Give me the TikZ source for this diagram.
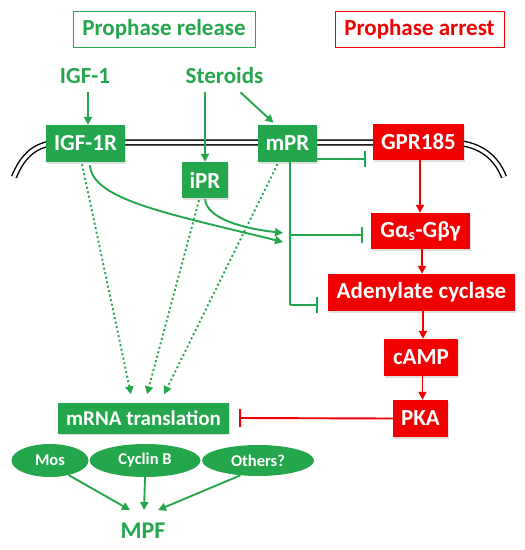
\documentclass[tikz,border=0pt]{standalone}
\usepackage{fontspec}
\setmainfont{Carlito}
\usetikzlibrary{arrows.meta,shapes.geometric,calc,shadows}
\definecolor{gr}{RGB}{36,166,76}
\definecolor{rd}{RGB}{240,0,0}
\begin{document}
\begin{tikzpicture}[x=1pt,y=-1pt,
  bigfont/.style={font=\fontsize{23}{26}\selectfont\bfseries},
  gbox/.style={bigfont,fill=gr,text=white,inner sep=0pt,drop shadow={opacity=0.25,shadow xshift=1pt,shadow yshift=-1.5pt}},
  rbox/.style={bigfont,fill=rd,text=white,inner sep=0pt,drop shadow={opacity=0.25,shadow xshift=1pt,shadow yshift=-1.5pt}},
  gell/.style={ellipse,fill=gr,text=white,inner sep=0pt,font=\fontsize{16.5}{19}\selectfont\bfseries},
  gline/.style={draw=gr,line width=1.9pt},
  garrow/.style={gline,-{Triangle[length=8pt,width=8pt]}},
  gdot/.style={garrow,dash pattern=on 2pt off 2.6pt},
  ginhib/.style={gline,-{Bar[width=16pt,line width=1.9pt]}},
  rarrow/.style={draw=rd,line width=1.9pt,-{Triangle[length=8pt,width=8pt]}},
  rinhib/.style={draw=rd,line width=1.9pt,-{Bar[width=18pt,line width=1.9pt]}},
  gtext/.style={bigfont,text=gr,inner sep=0pt}]
\useasboundingbox (0,0) rectangle (525,550);

% headers
\node[gtext,draw=gr,line width=0.8pt,minimum width=182pt,minimum height=36pt] (rel) at (164,29) {Prophase release};
\node[bigfont,text=rd,draw=rd,line width=0.8pt,inner sep=0pt,minimum width=169pt,minimum height=36pt] (arr) at (419.5,29) {Prophase arrest};

% ligands
\node[gtext] (igf1) at (85,76) {IGF-1};
\node[gtext] (ster) at (224.5,76) {Steroids};

% membrane
\draw[line width=1.4pt,double=white,double distance=3.4pt]
  (14,177) .. controls (23,155) and (36,142.5) .. (62,142.5) -- (450,142.5)
  .. controls (476,142.5) and (495,154) .. (504,177);

% receptors
\node[gbox,minimum width=79pt,minimum height=37pt] (igf1r) at (85.5,143.5) {IGF-1R};
\node[gbox,minimum width=59pt,minimum height=37pt] (mpr) at (287.5,143.5) {mPR};
\node[rbox,minimum width=91pt,minimum height=36pt] (gpr) at (418.5,142) {GPR185};
\node[gbox,minimum width=46pt,minimum height=36pt] (ipr) at (205,180) {iPR};

% red cascade
\node[rbox,minimum width=99pt,minimum height=36pt] (gas) at (420.5,231) {Gα\textsubscript{s}-Gβγ};
\node[rbox,minimum width=187pt,minimum height=37pt] (ac) at (421.5,292.5) {Adenylate cyclase};
\node[rbox,minimum width=74pt,minimum height=37pt] (camp) at (421,357.5) {cAMP};
\node[rbox,minimum width=55pt,minimum height=37pt] (pka) at (420.5,418.5) {PKA};

% mRNA translation and products
\node[gbox,font=\fontsize{21}{24}\selectfont\bfseries,minimum width=171pt,minimum height=31pt] (mrna) at (143.5,418) {mRNA translation};
\node[gell,minimum width=77pt,minimum height=33pt] (mos) at (50,460.5) {Mos};
\node[gell,minimum width=111pt,minimum height=33pt] (cyc) at (145,460.5) {Cyclin B};
\node[gell,minimum width=112pt,minimum height=31pt] (oth) at (258,460.5) {Others?};
\node[gtext,font=\fontsize{24}{26}\selectfont\bfseries] (mpf) at (143,531) {MPF};

% ligand arrows
\draw[garrow] (igf1.south) ++(3,8) coordinate (a1) -- (a1 |- igf1r.north);
\draw[garrow] (ster.south) ++(-19.5,8) coordinate (a2) -- (a2 |- ipr.north);
\coordinate (a3) at ($(ster.south)+(16,8)$);
\draw[garrow] (a3) -- ($(mpr.north)+(-14,-2)$);

% red cascade arrows
\draw[rarrow] (gpr.south) ++(1.5,0) coordinate (r1) -- (r1 |- gas.north);
\draw[rarrow] (gas.south) ++(1.5,0) coordinate (r2) -- (r2 |- ac.north);
\draw[rarrow] (ac.south) ++(1.5,0) coordinate (r3) -- (r3 |- camp.north);
\draw[rarrow] (camp.south) ++(1.5,0) coordinate (r4) -- (r4 |- pka.north);
\draw[rinhib] (pka.west) -- ($(mrna.east)+(10,0)$);

% mPR inhibitions
\coordinate (m1) at ($(mpr.east)+(0,15.5)$);
\coordinate (g1) at ($(gpr.west)+(-7,0)$);
\draw[ginhib] (m1) -- (g1 |- m1);
\coordinate (mv) at ($(mpr.south)+(2.5,0)$);
\coordinate (mb) at (mv |- 0,305);
\draw[gline] (mv) -- (mb);
\coordinate (gb) at ($(gas.west)+(-8,4)$);
\coordinate (ab) at ($(ac.west)+(-10,12.5)$);
\draw[ginhib] (mv |- gb) -- (gb);
\draw[ginhib] (mb) -- (ab |- mb);

% activating curves
\draw[garrow] ($(igf1r.south)+(4.5,3)$) .. controls (92,200) and (170,214) .. ($(mv |- 0,242)+(-7,0)$);
\draw[garrow] ($(ipr.south)+(0,1)$) .. controls (207,218) and (240,228) .. ($(mv |- 0,233)+(-7,0)$);

% dotted arrows to mRNA translation
\draw[gdot] ($(igf1r.south)+(-3.5,2)$) -- ($(mrna.north)+(-12.5,-8)$);
\draw[gdot] ($(ipr.south)+(-6,2)$) -- ($(mrna.north)+(3.5,-8)$);
\draw[gdot] ($(mpr.south)+(-10,2)$) -- ($(mrna.north)+(20.5,-8)$);

% arrows to MPF
\draw[garrow] (mos.-38) -- ($(mpf.north)+(-13,-13)$);
\draw[garrow] (cyc.south) -- ($(mpf.north)+(1,-13)$);
\draw[garrow] (oth.-140) -- ($(mpf.north)+(15,-13)$);
\end{tikzpicture}
\end{document}
